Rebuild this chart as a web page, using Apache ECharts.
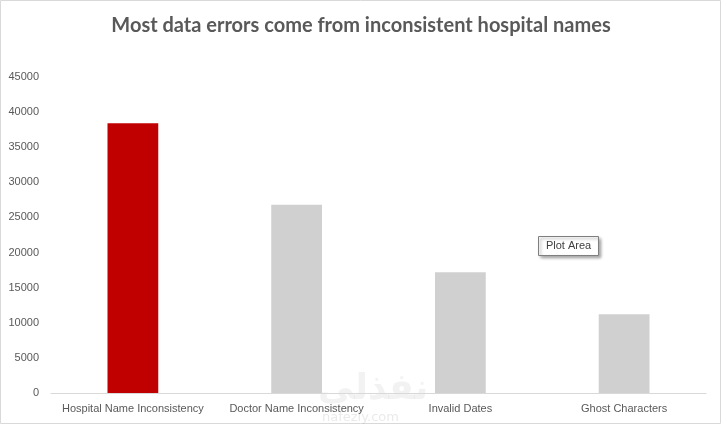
<!DOCTYPE html>
<html>
<head>
<meta charset="utf-8">
<script src="https://cdn.jsdelivr.net/npm/echarts@6/dist/echarts.min.js"></script>
<style>html,body{margin:0;padding:0;background:#fff}#c{width:722px;height:426px}</style>
</head>
<body>
<div id="c"></div>
<script>
const categories = ['Hospital Name Inconsistency', 'Doctor Name Inconsistency', 'Invalid Dates', 'Ghost Characters'];
const errorCounts = [38400, 26800, 17200, 11200];
const highlightIndex = 0;
const yTicks = [0, 5000, 10000, 15000, 20000, 25000, 30000, 35000, 40000, 45000];

const chart = echarts.init(document.getElementById('c'), null, {renderer: 'canvas'});
chart.setOption({
  animation: false,
  backgroundColor: '#fff',
  title: {
    text: 'Most data errors come from inconsistent hospital names',
    left: 'center', top: 11,
    textStyle: {fontFamily: 'Lato', fontWeight: 'bold', fontSize: 20, color: '#595959'}
  },
  grid: {left: 51, right: 16, top: 77, bottom: 33, containLabel: false},
  xAxis: {
    type: 'category', data: categories,
    axisLine: {lineStyle: {color: '#d9d9d9', width: 1}},
    axisTick: {show: false},
    axisLabel: {color: '#595959', fontFamily: 'Liberation Sans', fontSize: 11, margin: 10, interval: 0}
  },
  yAxis: {
    type: 'value', min: yTicks[0], max: yTicks[yTicks.length - 1], interval: yTicks[1] - yTicks[0],
    splitLine: {show: false},
    axisLine: {show: false}, axisTick: {show: false},
    axisLabel: {color: '#595959', fontFamily: 'Liberation Sans', fontSize: 11, margin: 12, formatter: v => String(v)}
  },
  series: [{
    type: 'bar',
    data: errorCounts.map((v, i) => ({value: v, itemStyle: {color: i === highlightIndex ? '#c00000' : '#d0d0d0'}})),
    barWidth: '31%'
  }],
  graphic: [
    {type: 'rect', shape: {x: 0.5, y: 0.5, width: 720, height: 423}, style: {fill: 'none', stroke: '#d9d9d9', lineWidth: 1}, silent: true},
    {type: 'text', left: 318, top: 372, style: {text: 'نفذلي', font: 'bold 36px "DejaVu Sans"', fill: 'rgba(170,170,170,0.15)'}, silent: true},
    {type: 'text', left: 322, top: 411, style: {text: 'nafezly.com', font: '13px "DejaVu Sans"', fill: 'rgba(170,170,170,0.25)'}, silent: true},
    {type: 'rect', shape: {x: 538.5, y: 236.5, width: 60, height: 19}, style: {fill: '#fff', stroke: '#7f7f7f', lineWidth: 1, shadowBlur: 3, shadowOffsetX: 2, shadowOffsetY: 2, shadowColor: 'rgba(0,0,0,0.35)'}, silent: true},
    {type: 'text', x: 568.5, y: 246, style: {text: 'Plot Area', font: '11px "Liberation Sans"', fill: '#404040', align: 'center', verticalAlign: 'middle'}, silent: true}
  ]
});
</script>
</body>
</html>
